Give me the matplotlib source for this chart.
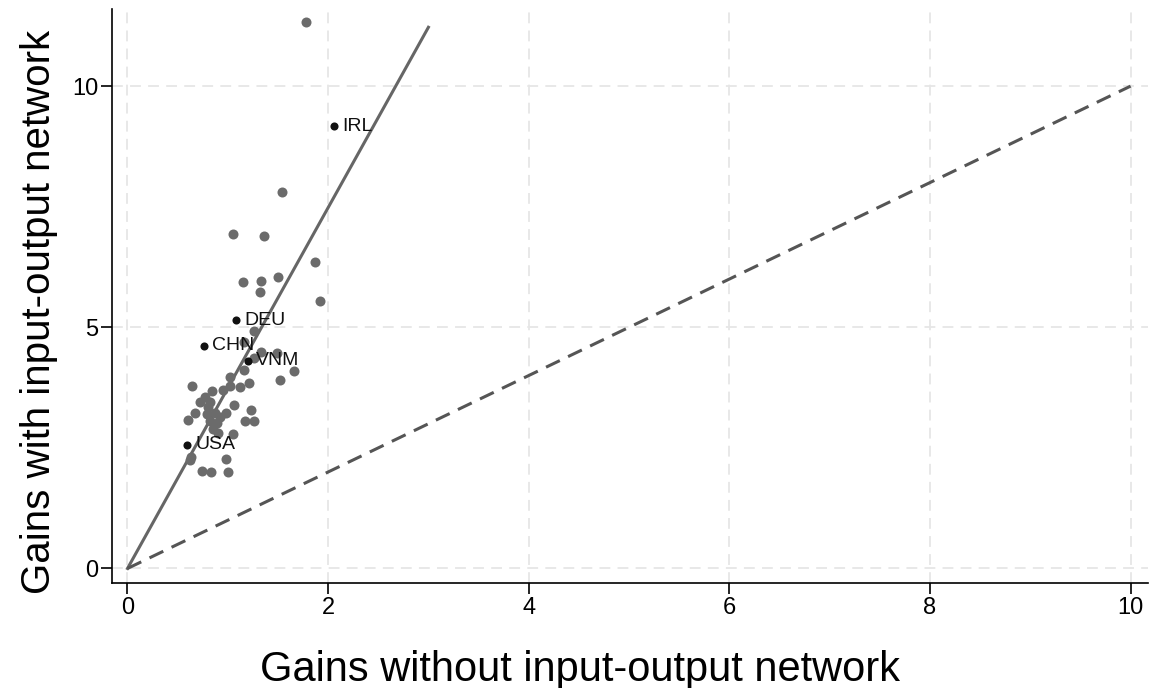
import matplotlib.pyplot as plt
import numpy as np

plt.rcParams['font.family'] = ['Liberation Sans', 'DejaVu Sans']

# gains without / with input-output network (other countries)
gains_no_io = [1.78, 1.54, 1.05, 1.36, 1.87, 1.92, 1.15, 1.33, 1.50, 1.32,
               1.26, 1.16, 1.33, 1.49, 1.26, 1.16, 1.66, 1.52, 1.02, 0.64,
               1.02, 1.12, 1.21, 0.95, 0.84, 0.77, 0.72, 0.82, 1.06, 0.67,
               0.79, 0.87, 0.98, 1.23, 0.60, 0.82, 0.89, 1.17, 1.26, 0.85,
               0.90, 1.05, 0.63, 0.62, 0.98, 0.74, 0.83, 1.00, 0.92, 0.80]
gains_io = [11.32, 7.81, 6.94, 6.89, 6.36, 5.55, 5.94, 5.96, 6.04, 5.74,
            4.92, 4.69, 4.49, 4.46, 4.37, 4.11, 4.10, 3.90, 3.97, 3.79,
            3.78, 3.77, 3.85, 3.70, 3.68, 3.56, 3.45, 3.45, 3.38, 3.22,
            3.21, 3.23, 3.23, 3.29, 3.07, 3.05, 3.01, 3.05, 3.05, 2.90,
            2.81, 2.78, 2.31, 2.25, 2.26, 2.02, 1.99, 2.01, 3.15, 3.35]

# highlighted countries
labels = ['IRL', 'DEU', 'CHN', 'VNM', 'USA']
lab_no_io = [2.06, 1.08, 0.76, 1.20, 0.59]
lab_io = [9.17, 5.15, 4.62, 4.31, 2.56]

fit_x = [0, 3]
fit_slope = 3.74
diag = [0, 10]

fig = plt.figure(figsize=(11.61, 6.88), dpi=100)
ax = fig.add_axes([0.0965, 0.152, 0.892, 0.835])

ax.grid(True, color='#e6e6e6', linestyle=(0, (6, 4)), linewidth=1.3)
ax.set_axisbelow(True)

ax.scatter(gains_no_io, gains_io, s=52, color='#6b6b6b', linewidths=0, zorder=3)
ax.plot(fit_x, [v * fit_slope for v in fit_x], color='#666666', linewidth=2.2, zorder=2)
ax.plot(diag, diag, color='#555555', linewidth=2.2, linestyle=(0, (5, 3)), zorder=2)
ax.scatter(lab_no_io, lab_io, s=34, color='#111111', linewidths=0, zorder=4)
for lab, x, y in zip(labels, lab_no_io, lab_io):
    ax.annotate(lab, (x, y), xytext=(6, 0), textcoords='offset points',
                va='center', ha='left', fontsize=14, color='#111111', zorder=5)

ax.set_xlim(-0.154, 10.17)
ax.set_ylim(-0.31, 11.6)
ax.set_xticks([0, 2, 4, 6, 8, 10])
ax.set_yticks([0, 5, 10])
ax.tick_params(labelsize=17, length=8, width=1.2, direction='out', pad=2)
for s in ['top', 'right']:
    ax.spines[s].set_visible(False)
for s in ['left', 'bottom']:
    ax.spines[s].set_linewidth(1.2)

ax.set_xlabel('Gains without input-output network', fontsize=30, va='center')
ax.set_ylabel('Gains with input-output network', fontsize=29, va='center')
ax.xaxis.set_label_coords((0.5 - 0.0965) / 0.892, -0.15)
ax.yaxis.set_label_coords(-0.071, (0.5465 - 0.152) / 0.835)

fig.savefig('out.png', dpi=100)
